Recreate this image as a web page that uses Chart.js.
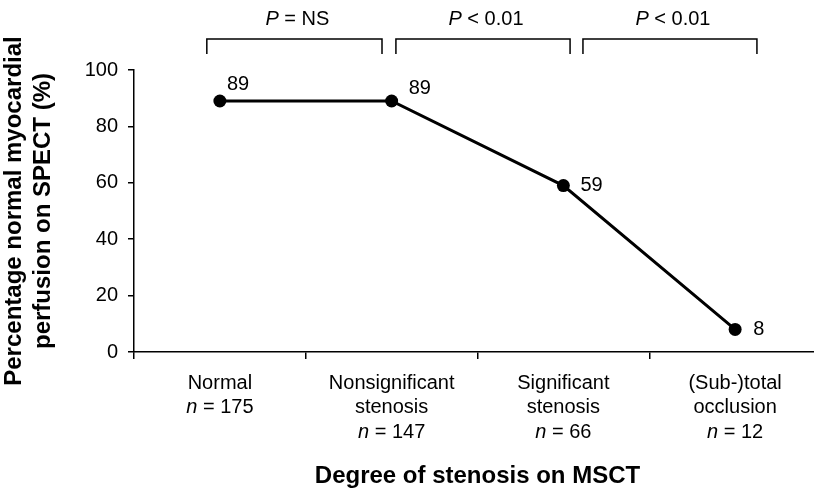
<!DOCTYPE html>
<html>
<head>
<meta charset="utf-8">
<title>Perfusion by degree of stenosis</title>
<script src="https://cdn.jsdelivr.net/npm/chart.js@4.4.1/dist/chart.umd.min.js"></script>
<style>
    html, body { margin: 0; padding: 0; background: #fff; overflow: hidden; }
    #wrap { width: 830px; height: 501px; }
</style>
</head>
<body>
<div id="wrap"><canvas id="stenosis-chart" width="830" height="501"></canvas></div>
<script>
// --- Data ---
const categories = [
    ['Normal', 'n = 175'],
    ['Nonsignificant', 'stenosis', 'n = 147'],
    ['Significant', 'stenosis', 'n = 66'],
    ['(Sub-)total', 'occlusion', 'n = 12']
];
const perfusion = [89, 89, 59, 8];
const yTicks = [0, 20, 40, 60, 80, 100];
const pLabels = ['P = NS', 'P < 0.01', 'P < 0.01'];

const FONT = "'Liberation Sans', Arial, sans-serif";
const TEXT_SIZE = 20;

// draws "n = 175" / "P < 0.01" with the first letter in italics
function drawItalicLead(ctx, text, cx, y, size) {
    const regular = size + 'px ' + FONT;
    const italic = 'italic ' + size + 'px ' + FONT;
    const lead = /^[nP] /.test(text) ? text[0] : '';
    const rest = text.slice(lead.length);
    ctx.font = italic;
    const w1 = ctx.measureText(lead).width;
    ctx.font = regular;
    const w2 = ctx.measureText(rest).width;
    let x = cx - (w1 + w2) / 2;
    ctx.textAlign = 'left';
    if (lead) {
        ctx.font = italic;
        ctx.fillText(lead, x, y);
        x += w1;
    }
    ctx.font = regular;
    ctx.fillText(rest, x, y);
}

const annotations = {
    id: 'annotations',
    afterDraw(chart) {
        const ctx = chart.ctx;
        const xScale = chart.scales.x;
        const points = chart.getDatasetMeta(0).data;
        ctx.save();
        ctx.fillStyle = '#000';
        ctx.strokeStyle = '#000';
        ctx.textBaseline = 'middle';

        // category labels under the axis
        categories.forEach((lines, i) => {
            const cx = xScale.getPixelForValue(i);
            lines.forEach((line, k) => {
                drawItalicLead(ctx, line, cx, xScale.top + 31 + k * 24.5, TEXT_SIZE);
            });
        });

        // value labels next to the points
        const offsets = [[7, -17], [17, -13], [17, 0], [18, 0]];
        ctx.font = TEXT_SIZE + 'px ' + FONT;
        ctx.textAlign = 'left';
        points.forEach((pt, i) => {
            ctx.fillText(String(perfusion[i]), pt.x + offsets[i][0], pt.y + offsets[i][1]);
        });

        // brackets with P values
        const step = xScale.getPixelForValue(1) - xScale.getPixelForValue(0);
        const x0 = xScale.getPixelForValue(0);
        const spans = [[-0.076, 0.944], [1.025, 2.039], [2.114, 3.127]];
        ctx.lineWidth = 1.5;
        spans.forEach((s, i) => {
            const x1 = x0 + s[0] * step;
            const x2 = x0 + s[1] * step;
            ctx.beginPath();
            ctx.moveTo(x1, 54);
            ctx.lineTo(x1, 39);
            ctx.lineTo(x2, 39);
            ctx.lineTo(x2, 54);
            ctx.stroke();
            drawItalicLead(ctx, pLabels[i], (x1 + x2) / 2 + 3, 19, TEXT_SIZE);
        });
        ctx.restore();
    }
};

new Chart(document.getElementById('stenosis-chart'), {
    type: 'line',
    data: {
        labels: categories,
        datasets: [{
            data: perfusion,
            borderColor: '#000',
            borderWidth: 3,
            backgroundColor: '#000',
            pointRadius: 6.5,
            pointHoverRadius: 6.5,
            pointBorderWidth: 0,
            tension: 0
        }]
    },
    options: {
        responsive: false,
        animation: false,
        devicePixelRatio: 1,
        layout: { padding: { top: 70, right: 9, left: 0, bottom: 0 } },
        plugins: {
            legend: { display: false },
            tooltip: { enabled: false }
        },
        scales: {
            x: {
                type: 'category',
                offset: true,
                grid: {
                    offset: true,
                    drawOnChartArea: false,
                    color: '#000',
                    lineWidth: 1.5,
                    tickLength: 7
                },
                border: { color: '#000', width: 1.5 },
                ticks: { display: false },
                title: {
                    display: true,
                    text: 'Degree of stenosis on MSCT',
                    color: '#000',
                    font: { family: FONT, size: 24, weight: 'bold', lineHeight: 1.2 },
                    padding: { top: 0, bottom: 10.5 }
                },
                afterFit: scale => { scale.height = 149; }
            },
            y: {
                min: 0,
                max: 100,
                afterBuildTicks: scale => { scale.ticks = yTicks.map(v => ({ value: v })); },
                grid: {
                    drawOnChartArea: false,
                    color: '#000',
                    lineWidth: 1.5,
                    tickLength: 6
                },
                border: { color: '#000', width: 1.5 },
                ticks: {
                    color: '#000',
                    padding: 10,
                    font: { family: FONT, size: TEXT_SIZE }
                },
                title: {
                    display: true,
                    text: ['Percentage normal myocardial', 'perfusion on SPECT (%)'],
                    color: '#000',
                    font: { family: FONT, size: 24, weight: 'bold', lineHeight: 1.2 },
                    padding: { top: 0, bottom: 0 }
                },
                afterFit: scale => { scale.width = 134; }
            }
        }
    },
    plugins: [annotations]
});
</script>
</body>
</html>
